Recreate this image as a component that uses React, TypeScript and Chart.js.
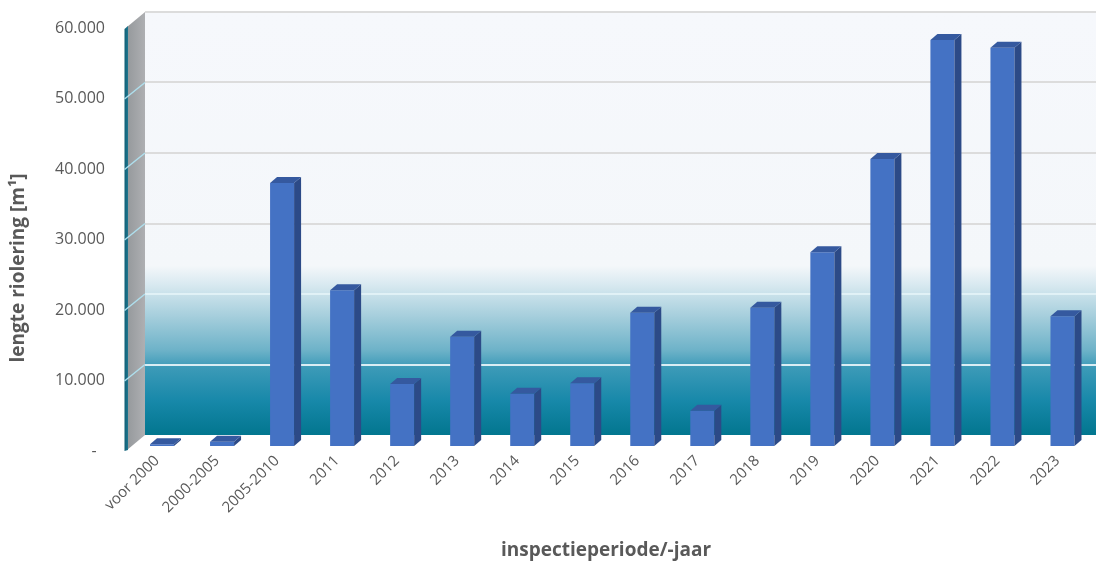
import React, { useEffect, useRef } from 'react';
import { Chart, registerables } from 'chart.js';

Chart.register(...registerables);

// Inspected sewer length per inspection period / year (metres)
const categories = [
  'voor 2000', '2000-2005', '2005-2010', '2011', '2012', '2013', '2014', '2015',
  '2016', '2017', '2018', '2019', '2020', '2021', '2022', '2023',
];
const lengths = [
  250, 600, 37300, 22100, 8800, 15500, 7400, 8900,
  18900, 5000, 19600, 27500, 40700, 57600, 56500, 18400,
];
const yTickValues = [0, 10000, 20000, 30000, 40000, 50000, 60000];
const yTickLabels = ['-  ', '10.000', '20.000', '30.000', '40.000', '50.000', '60.000'];
const yTitle = 'lengte riolering [m¹]';
const xTitle = 'inspectieperiode/-jaar';

// 3D look: bar depth, and offsets of the front / back planes relative to the bar plane
const BAR_DX = 7;
const BAR_DY = 6;
const FRONT_DX = -5;
const FRONT_DY = 4;
const BACK_DX = 13;
const BACK_DY = -11;

const FRONT_COLOR = '#4472c4';
const SIDE_COLOR = '#2c4a87';
const TOP_COLOR = '#35599f';
const TEXT_COLOR = '#595959';
const FONT = "'Open Sans', 'DejaVu Sans', sans-serif";

function poly(ctx: CanvasRenderingContext2D, pts: number[][], fill: string | CanvasGradient) {
  ctx.beginPath();
  ctx.moveTo(pts[0][0], pts[0][1]);
  for (let i = 1; i < pts.length; i++) ctx.lineTo(pts[i][0], pts[i][1]);
  ctx.closePath();
  ctx.fillStyle = fill;
  ctx.fill();
}

const scene3d = {
  id: 'scene3d',
  beforeDatasetsDraw(chart: any) {
    const { ctx, chartArea: a, scales } = chart;
    const y = scales.y;
    const W = chart.width;
    const y0 = y.getPixelForValue(y.min);
    const yMax = y.getPixelForValue(y.max);
    ctx.save();

    // back wall
    const bx = a.left + BACK_DX;
    const bTop = yMax + BACK_DY;
    const bBot = y0 + BACK_DY;
    const g = ctx.createLinearGradient(0, bTop, 0, bBot);
    g.addColorStop(0, '#f6f8fc');
    g.addColorStop(0.6, '#f4f7fa');
    g.addColorStop(0.645, '#d8e9f0');
    g.addColorStop(0.72, '#a5cedc');
    g.addColorStop(0.8, '#6db2c8');
    g.addColorStop(0.84, '#3c9ab8');
    g.addColorStop(0.92, '#1788a9');
    g.addColorStop(1, '#02768f');
    ctx.fillStyle = g;
    ctx.fillRect(bx, bTop, W - bx, bBot - bTop);

    // back wall gridlines
    yTickValues.forEach((v) => {
      if (v === 0) return;
      const py = Math.round(y.getPixelForValue(v) + BACK_DY);
      ctx.strokeStyle = v >= 30000 ? '#dcdcdc' : 'rgba(226,241,247,0.95)';
      ctx.lineWidth = 2;
      ctx.beginPath();
      ctx.moveTo(bx, py);
      ctx.lineTo(W, py);
      ctx.stroke();
    });

    // left side wall
    const fx = a.left + FRONT_DX;
    const sg = ctx.createLinearGradient(fx, 0, bx, 0);
    sg.addColorStop(0, '#95999c');
    sg.addColorStop(1, '#aeafb2');
    poly(ctx, [
      [fx, yMax + FRONT_DY], [bx, bTop], [bx, bBot], [fx, y0 + FRONT_DY],
    ], sg);

    // wall front edge
    const eg = ctx.createLinearGradient(fx - 3, 0, fx + 1, 0);
    eg.addColorStop(0, '#0f5a70');
    eg.addColorStop(1, '#1d7790');
    poly(ctx, [
      [fx - 2.5, yMax + FRONT_DY + 2], [fx + 1, yMax + FRONT_DY - 1],
      [fx + 1, y0 + FRONT_DY], [fx - 2.5, y0 + FRONT_DY + 1],
    ], eg);

    // side wall gridlines
    yTickValues.forEach((v) => {
      if (v === 0 || v === y.max) return;
      const py = y.getPixelForValue(v);
      ctx.strokeStyle = 'rgba(175,225,240,0.95)';
      ctx.lineWidth = 1.5;
      ctx.beginPath();
      ctx.moveTo(fx - 2.5, py + FRONT_DY + 1.5);
      ctx.lineTo(bx, py + BACK_DY);
      ctx.stroke();
    });
    ctx.restore();
  },
  afterDatasetsDraw(chart: any) {
    const { ctx } = chart;
    const meta = chart.getDatasetMeta(0);
    ctx.save();
    meta.data.forEach((bar: any) => {
      const { x, y: top, base, width } = bar.getProps(['x', 'y', 'base', 'width'], true);
      const l = x - width / 2;
      const r = x + width / 2;
      poly(ctx, [[r, top], [r + BAR_DX, top - BAR_DY], [r + BAR_DX, base - BAR_DY], [r, base]], SIDE_COLOR);
      poly(ctx, [[l, top], [l + BAR_DX, top - BAR_DY], [r + BAR_DX, top - BAR_DY], [r, top]], TOP_COLOR);
    });
    ctx.restore();
  },
  afterDraw(chart: any) {
    const { ctx } = chart;
    ctx.save();
    ctx.fillStyle = TEXT_COLOR;
    ctx.font = `bold 19px ${FONT}`;
    ctx.textAlign = 'center';
    ctx.textBaseline = 'middle';
    ctx.fillText(xTitle, 606, 551);
    ctx.translate(19, 268);
    ctx.rotate(-Math.PI / 2);
    ctx.fillText(yTitle, 0, 0);
    ctx.restore();
  },
};

export default function App() {
  const canvasRef = useRef<HTMLCanvasElement | null>(null);

  useEffect(() => {
    document.body.style.margin = '0';
    document.body.style.overflow = 'hidden';
    const canvas = canvasRef.current;
    if (!canvas) return;
    const chart = new Chart(canvas, {
      type: 'bar',
      data: {
        labels: categories,
        datasets: [
          {
            data: lengths,
            backgroundColor: FRONT_COLOR,
            borderWidth: 0,
            barPercentage: 0.4,
            categoryPercentage: 1,
          },
        ],
      },
      options: {
        animation: false,
        responsive: true,
        maintainAspectRatio: false,
        layout: { padding: { top: 23, right: 3.5, left: 0, bottom: 0 } },
        plugins: {
          legend: { display: false },
          tooltip: { enabled: false },
        },
        scales: {
          x: {
            grid: { display: false, drawTicks: false },
            border: { display: false },
            ticks: {
              autoSkip: false,
              minRotation: 45,
              maxRotation: 45,
              padding: 6,
              labelOffset: -5,
              color: TEXT_COLOR,
              font: { family: FONT, size: 15 },
            },
            afterFit: (scale: any) => {
              scale.height = 119;
              scale.paddingLeft = 0;
              scale.paddingRight = 0;
            },
          },
          y: {
            min: 0,
            max: 60000,
            grid: { display: false, drawTicks: false },
            border: { display: false },
            afterBuildTicks: (scale: any) => {
              scale.ticks = yTickValues.map((v) => ({ value: v }));
            },
            ticks: {
              padding: 27,
              labelOffset: 5,
              color: TEXT_COLOR,
              font: { family: FONT, size: 16 },
              callback: (_v: any, i: number) => yTickLabels[i],
            },
            afterFit: (scale: any) => {
              scale.width = 132;
              scale.paddingTop = 0;
              scale.paddingBottom = 0;
            },
          },
        },
      },
      plugins: [scene3d],
    });
    return () => chart.destroy();
  }, []);

  return (
    <div style={{ position: 'relative', width: '1096px', height: '565px', background: '#ffffff' }}>
      <canvas ref={canvasRef} />
    </div>
  );
}
